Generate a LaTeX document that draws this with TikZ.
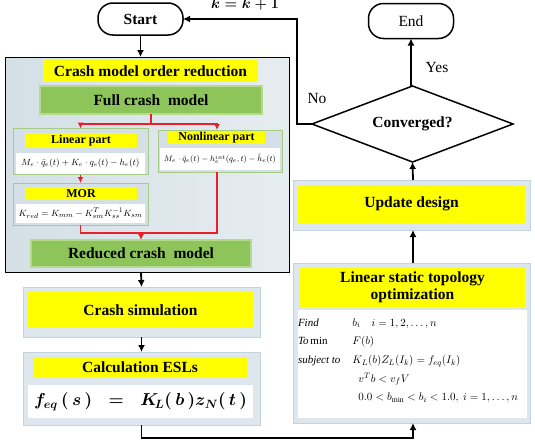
\documentclass[tikz,border=0pt]{standalone}
\usepackage{amsmath}
\usepackage{fontspec}
\setmainfont{Liberation Serif}
\usetikzlibrary{arrows.meta,shapes.geometric}
\definecolor{ylw}{HTML}{FFFF00}
\definecolor{grn}{HTML}{8DC55B}
\definecolor{grnline}{HTML}{B4DA8E}
\definecolor{panel}{HTML}{DDE7ED}
\definecolor{panelL}{HTML}{D4DFE6}
\definecolor{panelR}{HTML}{E6EDF1}
\definecolor{panelline}{HTML}{C4D4DE}
\definecolor{contline}{HTML}{A6CB86}
\definecolor{redc}{HTML}{E8202A}
\tikzset{
  sz/.style n args={2}{minimum width=#1pt,minimum height=#2pt},
  ttl/.style={font=\fontsize{15.5}{17}\selectfont\bfseries},
  sub/.style={font=\fontsize{12}{13}\selectfont\bfseries},
  ybox/.style={fill=ylw},
  gbox/.style={fill=grn, draw=grnline, line width=1.5pt},
  outbox/.style={fill=panel, draw=panelline, line width=1pt},
  contbox/.style={fill=panelL, draw=contline, line width=1pt},
  wbox/.style={fill=white},
  term/.style={draw=black, line width=1.5pt, rounded corners=15pt, fill=white},
  blk/.style={line width=1.8pt, -{Latex[length=7pt,width=7pt]}},
  redline/.style={draw=redc, line width=1.4pt},
  redarrow/.style={draw=redc, line width=1.4pt, -{Latex[length=6pt,width=6pt]}, color=redc},
  lbl/.style={font=\fontsize{15.5}{17}\selectfont}
}
\begin{document}
\begin{tikzpicture}[x=1pt,y=-1pt, every node/.style={inner sep=0pt, outer sep=0pt}]
\useasboundingbox (0,0) rectangle (535,442);
% left column
\node[term, ttl, sz={85}{32}] (start) at (140.5,19) {Start};
\node[font=\fontsize{14}{15}\selectfont] (kk) at (245,4) {$\boldsymbol{k=k+1}$};
\node[draw=black, line width=1pt, left color=panelL, right color=panelR, sz={284}{215}] (big) at (147,164.5) {};
\node[ybox, ttl, sz={215}{22}] (cmor) at (150.5,71) {Crash model order reduction};
\node[gbox, ttl, sz={222}{28}] (full) at (151,100) {Full crash~ model};
% linear part
\node[contbox, sz={135}{46}] (lincont) at (80.5,151.5) {};
\node[ybox, sub, sz={112}{15}] (linttl) at (81,140.5) {Linear part};
\node[wbox, sz={129}{21}, font=\fontsize{9.2}{10}\selectfont] (linf) at (80.5,163) {$M_e\cdot\ddot{q}_e(t)+K_e\cdot q_e(t)-h_e(t)$};
% MOR
\node[contbox, sz={135}{42}] (morcont) at (80.5,204) {};
\node[ybox, sub, sz={112}{13}] (morttl) at (81,193.5) {MOR};
\node[wbox, sz={129}{19}, font=\fontsize{9.4}{11}\selectfont] (morf) at (80.5,213) {$K_{red}=K_{mm}-K_{sm}^{T}K_{ss}^{-1}K_{sm}$};
% nonlinear part
\node[contbox, sz={124}{42}] (nlcont) at (220,151) {};
\node[ybox, sub, sz={97}{12}] (nlttl) at (216.5,137.5) {Nonlinear part};
\node[wbox, sz={120}{22}, font=\fontsize{8.4}{10}\selectfont] (nlf) at (220,159) {$M_e\cdot\ddot{q}_e(t)-h_e^{int}(q_e,t)-\hat{h}_e(t)$};
% reduced
\node[gbox, ttl, sz={220}{27}] (reduced) at (141,253.5) {Reduced crash~ model};
% red connectors
\coordinate (split) at (151,124);
\coordinate (merge) at (141,233);
\draw[redline] (full.south) -- (split);
\draw[redarrow] (split) -| (lincont.north);
\draw[redarrow] (split) -| ([xshift=-3]nlcont.north);
\draw[redarrow] (lincont.south) -- (morcont.north);
\draw[redline] (morcont.south) |- (merge);
\draw[redline] ([xshift=-3]nlcont.south) |- (merge);
\draw[redarrow] (merge) -- (reduced.north);
% crash simulation
\node[outbox, sz={237}{50}] (csim) at (141.5,312) {};
\node[ybox, ttl, sz={225}{36}] (csimttl) at (140.5,310) {Crash simulation};
% ESL
\node[outbox, sz={237}{73}] (esl) at (141.5,388.5) {};
\node[ybox, ttl, sz={214}{21}] (eslttl) at (140,367.5) {Calculation ESLs};
\node[wbox, sz={225}{33}, font=\fontsize{17.5}{20}\selectfont] (eslf) at (140.5,401.5) {$\boldsymbol{f_{eq}\,(\,s\,)\;\;=\;\;K_{\!L}(\,b\,)z_{N}(\,t\,)}$};
% right column
\node[term, lbl, sz={85}{35}] (end) at (411,21) {End};
\node[draw=black, line width=1.5pt, fill=white, shape=diamond, aspect=2.64, sz={201}{76}, ttl] (conv) at (412.5,124) {Converged?};
\node[outbox, sz={237}{50}] (upd) at (411.5,205) {};
\node[ybox, ttl, sz={227}{38}] (updttl) at (411.5,204) {Update design};
\node[outbox, sz={237}{160}] (lsto) at (411.5,343) {};
\node[ybox, ttl, sz={225}{39}, align=center] (lstottl) at (412.5,287.5) {Linear static topology\\optimization};
\node[wbox, sz={229}{108}] (lstow) at (412.5,364) {};
\node[anchor=north west, font=\fontsize{11}{18.7}\selectfont] (lstof) at (298,313) {%
\begin{tabular}{@{}l@{\hspace{12pt}}l@{}}
\textit{Find} & $b_i\quad i=1,2,\ldots,n$\\
\textit{To}\,min & $F(b)$\\
\textit{subject to} & $K_L(b)Z_L(I_k)=f_{eq}(I_k)$\\
 & \hspace{6pt}$v^T b<v_f V$\\
 & \hspace{6pt}$0.0<b_{\min}<b_i<1.0,\ i=1,\ldots,n$
\end{tabular}};
% black connectors
\draw[blk] (start.south) -- (start.south |- big.north);
\draw[blk] (reduced.south |- big.south) -- (csim.north);
\draw[blk] (csim.south) -- (esl.north);
\draw[blk] (esl.south) -- ++(0,13) -| ([xshift=1.5]lsto.south);
\draw[blk] ([xshift=1.5]lsto.north) -- ([xshift=1.5]upd.south);
\draw[blk] ([xshift=1.5]upd.north) -- (conv.south);
\draw[blk] (conv.north) -- (end.south |- conv.north) -- (end.south);
\draw[blk] (conv.west) -- ++(-15,0) |- (start.east);
\node[lbl] (yes) at (437,67) {Yes};
\node[lbl] (no) at (317,98) {No};
\end{tikzpicture}
\end{document}
